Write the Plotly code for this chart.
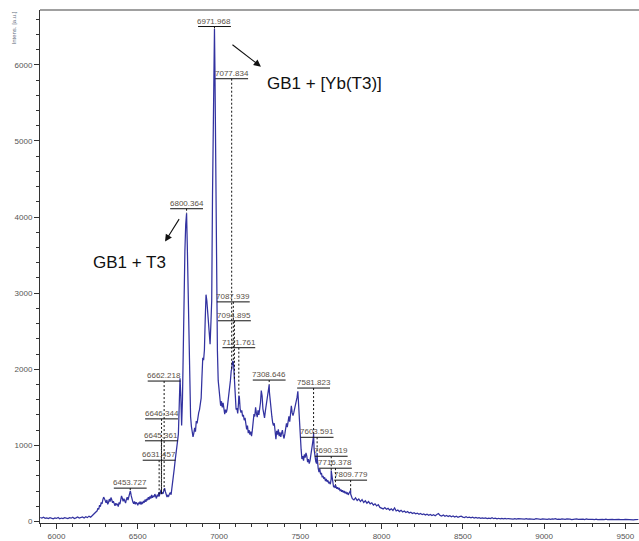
import plotly.graph_objects as go

# ---------------------------------------------------------------------------
# MALDI-TOF spectrum, intensities read per stretch of the m/z axis
# ---------------------------------------------------------------------------
MZ_BASE = list(range(5900, 6241, 10))
INT_BASE = [52, 46, 55, 41, 48, 38, 50, 44, 36, 47,
            40, 53, 35, 45, 39, 51, 42, 37, 49, 43,
            56, 39, 47, 58, 44, 52, 60, 46, 63, 51,
            70, 57, 78, 92, 118]

MZ_RISE = list(range(6250, 6761, 5))
INT_RISE = [140, 175, 160, 215, 195, 250, 230, 285, 320, 300,
            270, 245, 285, 225, 250, 295, 260, 315, 285, 245,
            265, 225, 205, 240, 215, 232, 195, 250, 228, 280,
            335, 305, 265, 298, 270, 242, 290, 318, 282, 330,
            365, 395, 335, 285, 255, 232, 262, 225, 252, 238,
            212, 248, 230, 262, 222, 250, 238, 268, 248, 288,
            258, 298, 278, 318, 288, 330, 302, 348, 312, 338,
            322, 360, 338, 302, 352, 330, 382, 352, 398, 415,
            382, 362, 412, 438, 392, 352, 322, 342, 330, 362,
            380, 352, 430, 472, 580, 700, 800, 920, 1000, 1060,
            1150, 1700, 1880]

MZ_CORE = list(range(6765, 7101, 5))
INT_CORE = [1650, 1260, 1600, 2400, 3000, 3550, 3900, 4000, 3600, 2900,
            2150, 1550, 1380, 1250, 1170, 1110, 1160, 1230, 1180, 1320,
            1290, 1380, 1430, 1470, 1560, 1620, 1900, 2150, 2120, 2250,
            2650, 2980, 2900, 2750, 2560, 2420, 2330, 2600, 2900, 4300,
            5600, 6300, 5900, 4200, 2900, 2250, 1850, 1700, 1640, 1520,
            1580, 1500, 1560, 1450, 1410, 1470, 1430, 1480, 1560, 1620,
            1700, 1850, 1980, 2050, 2110, 2050, 1830, 1560]

MZ_SHOULDER = list(range(7105, 7821, 5))
INT_SHOULDER = [1470, 1490, 1420, 1560, 1640, 1480, 1430, 1460, 1380, 1400,
                1330, 1360, 1250, 1210, 1260, 1160, 1200, 1140, 1180, 1120,
                1200, 1330, 1410, 1380, 1500, 1420, 1370, 1460, 1400, 1480,
                1560, 1720, 1650, 1480, 1420, 1360, 1450, 1520, 1600, 1690,
                1760, 1700, 1560, 1440, 1380, 1300, 1260, 1290, 1170, 1080,
                1190, 1140, 1210, 1120, 1170, 1110, 1160, 1200, 1130, 1090,
                1150, 1230, 1290, 1240, 1330, 1380, 1310, 1440, 1520, 1430,
                1390, 1430, 1480, 1520, 1560, 1630, 1710, 1500, 1250, 1080,
                950, 820, 860, 800, 880, 840, 900, 860, 780, 820,
                760, 800, 860, 920, 1020, 1100, 950, 840, 790, 760,
                820, 700, 650, 690, 620, 640, 580, 600, 560, 580,
                530, 560, 520, 540, 500, 520, 490, 560, 600, 480,
                450, 470, 440, 460, 430, 450, 420, 440, 400, 420,
                390, 410, 380, 400, 370, 390, 360, 380, 350, 370,
                390, 360, 320, 300]

MZ_TAIL = list(range(7830, 9581, 10))
INT_TAIL = [285, 310, 275, 295, 262, 288, 250, 272, 240, 262,
            232, 245, 215, 232, 205, 222, 185, 178, 165, 182,
            160, 172, 150, 166, 145, 178, 138, 150, 130, 146,
            125, 138, 118, 130, 112, 122, 105, 116, 100, 110,
            95, 106, 90, 100, 86, 95, 82, 92, 78, 88,
            76, 92, 104, 80, 72, 84, 68, 78, 66, 75,
            62, 72, 58, 68, 56, 64, 70, 58, 52, 62,
            50, 58, 47, 55, 45, 52, 44, 50, 42, 48,
            41, 47, 39, 45, 38, 50, 37, 43, 36, 42,
            35, 41, 34, 40, 33, 39, 36, 42, 32, 38,
            31, 37, 34, 30, 36, 32, 38, 31, 35, 30,
            34, 29, 36, 31, 33, 28, 35, 30, 34, 29,
            33, 28, 35, 30, 38, 29, 32, 27, 34, 30,
            28, 33, 27, 31, 26, 32, 28, 34, 27, 30,
            26, 31, 25, 33, 27, 30, 25, 29, 26, 31,
            25, 29, 24, 28, 26, 30, 24, 27, 25, 29,
            24, 28, 23, 27, 25, 29, 23, 26, 24, 27,
            23, 26, 22, 25, 23, 26]

# labelled peaks: m/z, peak height, height of the label bar
PEAK_MZ = [6453.727, 6631.457, 6645.361, 6646.344, 6662.218, 6800.364,
           6971.968, 7077.834, 7087.939, 7094.895, 7121.761, 7308.646,
           7581.823, 7603.591, 7690.319, 7716.378, 7809.779]
PEAK_INT = [400, 330, 360, 365, 410, 4050,
            6470, 2000, 2090, 1850, 1650, 1800,
            1150, 900, 670, 480, 410]
LABEL_Y = [438, 805, 1060, 1348, 1845, 4109,
           6503, 5817, 2885, 2637, 2283, 1858,
           1753, 1106, 857, 700, 543]

X_TICKS = [6000, 6500, 7000, 7500, 8000, 8500, 9000, 9500]
X_TICK_TEXT = ["6000", "6500", "7000", "7500", "8000", "8500", "9000", "9500"]
Y_TICKS = [0, 1000, 2000, 3000, 4000, 5000, 6000]
Y_TICK_TEXT = ["0", "1000", "2000", "3000", "4000", "5000", "6000"]

segments = [(MZ_BASE, INT_BASE), (MZ_RISE, INT_RISE), (MZ_CORE, INT_CORE),
            (MZ_SHOULDER, INT_SHOULDER), (MZ_TAIL, INT_TAIL)]
points = []
for mz, inten in segments:
    assert len(mz) == len(inten), (mz[0], len(mz), len(inten))
    points.extend(zip(mz, inten))
points.extend(zip(PEAK_MZ, PEAK_INT))
points.sort()
spec_mz = [p[0] for p in points]
spec_int = [p[1] for p in points]

fig = go.Figure()

fig.add_trace(go.Scatter(
    x=spec_mz, y=spec_int, mode="lines",
    line=dict(color="#3232a0", width=1.25), hoverinfo="skip",
    showlegend=False))

# label bars and dotted drop lines to each peak
HALF_BAR = 101
bar_x, bar_y, drop_x, drop_y = [], [], [], []
for m, h, ly in zip(PEAK_MZ, PEAK_INT, LABEL_Y):
    bar_x += [m - HALF_BAR, m + HALF_BAR, None]
    bar_y += [ly, ly, None]
    drop_x += [m, m, None]
    drop_y += [ly, h, None]

fig.add_trace(go.Scatter(
    x=drop_x, y=drop_y, mode="lines",
    line=dict(color="#111111", width=1, dash="2px,2px"),
    hoverinfo="skip", showlegend=False))
fig.add_trace(go.Scatter(
    x=bar_x, y=bar_y, mode="lines",
    line=dict(color="#111111", width=1),
    hoverinfo="skip", showlegend=False))

annotations = []
for m, ly in zip(PEAK_MZ, LABEL_Y):
    annotations.append(dict(
        x=m, y=ly, xref="x", yref="y", text=f"{m:.3f}", showarrow=False,
        xanchor="center", yanchor="bottom", yshift=-1,
        font=dict(size=8, color="#5a5047", family="Liberation Sans, Arial")))

annotations += [
    dict(x=7646, y=5754, xref="x", yref="y", text="GB1 + [Yb(T3)]",
         showarrow=False, font=dict(size=17, color="#111111",
                                    family="Liberation Sans, Arial")),
    dict(x=6452, y=3403, xref="x", yref="y", text="GB1 + T3",
         showarrow=False, font=dict(size=17, color="#111111",
                                    family="Liberation Sans, Arial")),
    dict(x=7258, y=5976, xref="x", yref="y", text="", showarrow=True,
         ax=-30, ay=-23, arrowhead=2, arrowsize=1.3, arrowwidth=1.1,
         arrowcolor="#111111"),
    dict(x=6668, y=3677, xref="x", yref="y", text="", showarrow=True,
         ax=15, ay=-24, arrowhead=2, arrowsize=1.3, arrowwidth=1.1,
         arrowcolor="#111111"),
    dict(x=0, y=1, xref="paper", yref="paper", xshift=-27, yanchor="top",
         xanchor="center", text="Intens. [a.u.]", textangle=-90,
         showarrow=False,
         font=dict(size=6, color="#667080", family="Liberation Sans, Arial")),
]

axis_font = dict(size=8, color="#555555", family="Liberation Sans, Arial")
fig.update_layout(
    width=639, height=541,
    margin=dict(l=40, r=0, t=10, b=15),
    paper_bgcolor="white", plot_bgcolor="white",
    annotations=annotations,
    shapes=[dict(type="line", xref="paper", yref="paper", x0=0, x1=1,
                 y0=1, y1=1, line=dict(color="#808080", width=1.5))],
    xaxis=dict(range=[5898.5, 9584], tickvals=X_TICKS, ticktext=X_TICK_TEXT,
               ticks="outside", ticklen=5, tickcolor="#333333",
               showline=True, linecolor="#333333", linewidth=1,
               showgrid=False, zeroline=False, tickfont=axis_font,
               minor=dict(tick0=6000, dtick=100, ticks="outside", ticklen=3,
                          tickcolor="#333333", showgrid=False)),
    yaxis=dict(range=[-20, 6720], tickvals=Y_TICKS, ticktext=Y_TICK_TEXT,
               ticks="outside", ticklen=5, tickcolor="#333333",
               showline=True, linecolor="#333333", linewidth=1,
               showgrid=False, zeroline=False, tickfont=axis_font,
               minor=dict(tick0=0, dtick=200, ticks="outside", ticklen=3,
                          tickcolor="#333333", showgrid=False)),
)

fig.write_html("out.html")
